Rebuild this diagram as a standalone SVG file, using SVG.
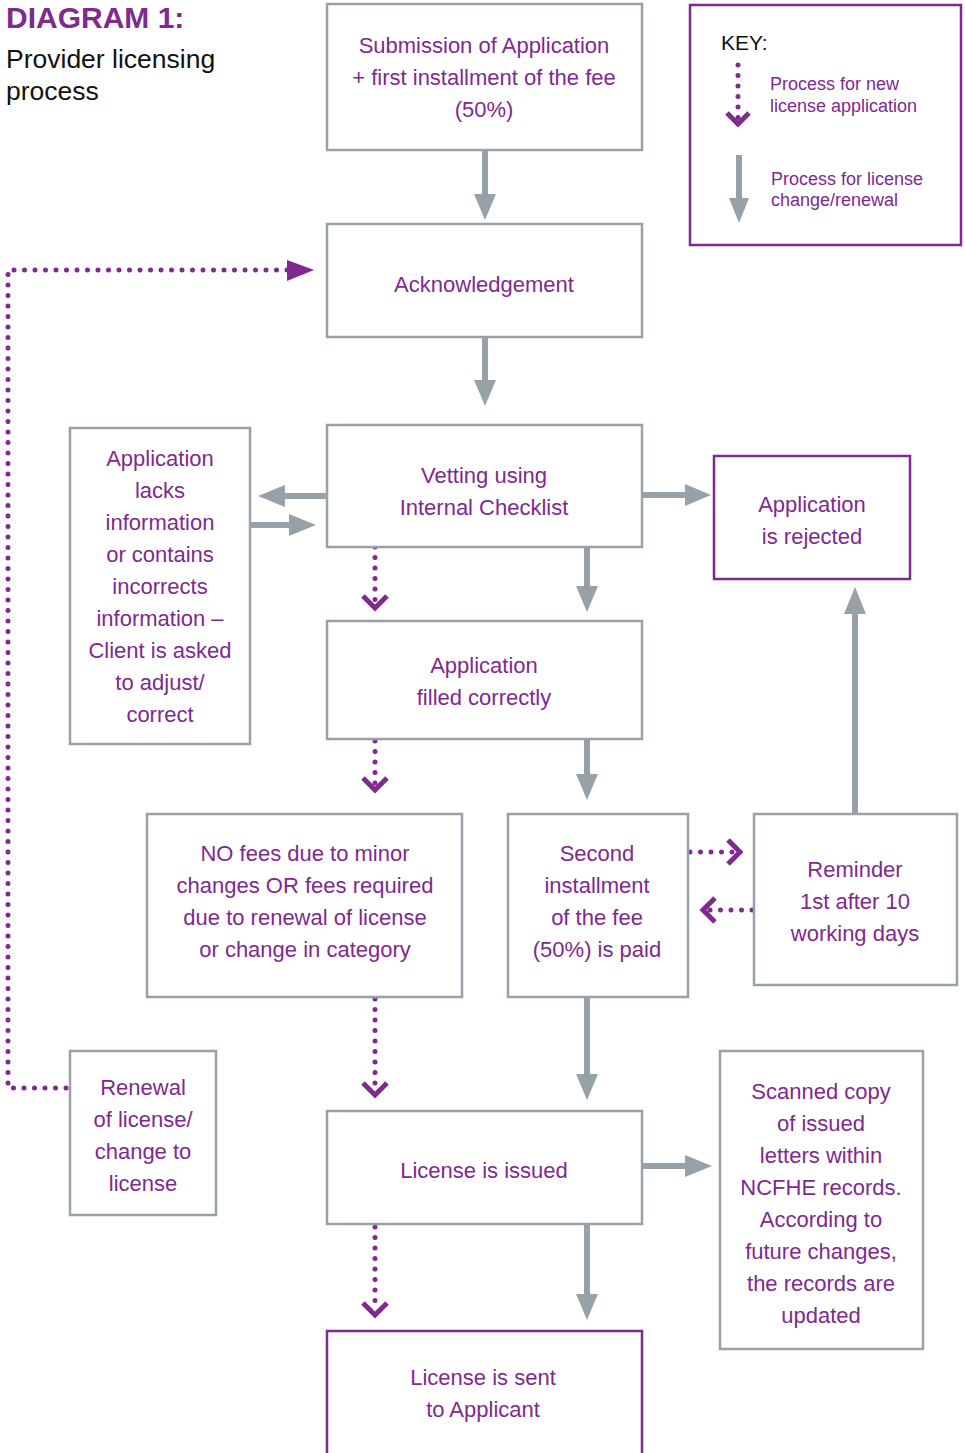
<svg xmlns="http://www.w3.org/2000/svg" width="965" height="1453" viewBox="0 0 965 1453">
<defs>
<style>
.box{fill:#fff;stroke:#97a2a8;stroke-width:2.5}
.pbox{fill:#fff;stroke:#80298f;stroke-width:2.5}
.t{font-family:"Liberation Sans",Arial,sans-serif;font-size:22px;fill:#80298f;text-anchor:middle}
.kt{font-family:"Liberation Sans",Arial,sans-serif;font-size:18px;fill:#80298f}
.g{stroke:#97a2a8;stroke-width:6;fill:none}
.gh{fill:#97a2a8}
.d{stroke:#80298f;stroke-width:5;stroke-linecap:round;stroke-dasharray:0 10.5;fill:none}
.ch{stroke:#80298f;stroke-width:5;fill:none}
</style>
</defs>
<rect width="965" height="1453" fill="#fff"/>
<g id="title">
<text x="6" y="28" font-family="Liberation Sans,Arial,sans-serif" font-size="30" font-weight="bold" fill="#80298f">DIAGRAM 1:</text>
<text x="6" y="68" font-family="Liberation Sans,Arial,sans-serif" font-size="26.5" fill="#111">Provider licensing</text>
<text x="6" y="100" font-family="Liberation Sans,Arial,sans-serif" font-size="26.5" fill="#111">process</text>
</g>
<g id="key">
<rect x="690" y="5" width="271" height="240" class="pbox"/>
<text x="721" y="50" font-family="Liberation Sans,Arial,sans-serif" font-size="21" fill="#111">KEY:</text>
<path d="M738 65 V118" class="d"/>
<path d="M727 113 L738 124 L749 113" class="ch"/>
<text x="770" y="90" class="kt">Process for new</text>
<text x="770" y="112" class="kt">license application</text>
<path d="M739 155 V200" class="g"/>
<path d="M729 198 L749 198 L739 223 Z" class="gh"/>
<text x="771" y="185" class="kt">Process for license</text>
<text x="771" y="206" class="kt">change/renewal</text>
</g>
<g id="connectors">
<path d="M485 150 V196" class="g"/><path d="M474 194 L496 194 L485 220 Z" class="gh"/>
<path d="M485 337 V382" class="g"/><path d="M474 380 L496 380 L485 406 Z" class="gh"/>
<path d="M327 496 H282" class="g"/><path d="M285 485 L285 507 L258 496 Z" class="gh"/>
<path d="M248 525 H292" class="g"/><path d="M289 514 L289 536 L316 525 Z" class="gh"/>
<path d="M642 495 H688" class="g"/><path d="M685 484 L685 506 L711 495 Z" class="gh"/>
<path d="M587 547 V588" class="g"/><path d="M576 586 L598 586 L587 612 Z" class="gh"/>
<path d="M587 740 V776" class="g"/><path d="M576 774 L598 774 L587 800 Z" class="gh"/>
<path d="M855 814 V612" class="g"/><path d="M844 614 L866 614 L855 587 Z" class="gh"/>
<path d="M587 997 V1076" class="g"/><path d="M576 1074 L598 1074 L587 1100 Z" class="gh"/>
<path d="M642 1166 H688" class="g"/><path d="M685 1155 L685 1177 L712 1166 Z" class="gh"/>
<path d="M587 1225 V1296" class="g"/><path d="M576 1294 L598 1294 L587 1320 Z" class="gh"/>
<path d="M375 547 V603" class="d"/><path d="M363 596 L375 608 L387 596" class="ch"/>
<path d="M375 741 V785" class="d"/><path d="M363 778 L375 790 L387 778" class="ch"/>
<path d="M375 999 V1090" class="d"/><path d="M363 1083 L375 1095 L387 1083" class="ch"/>
<path d="M375 1227 V1310" class="d"/><path d="M363 1303 L375 1315 L387 1303" class="ch"/>
<path d="M690 852 H735" class="d"/><path d="M728 840 L740 852 L728 864" class="ch"/>
<path d="M752 910 H708" class="d"/><path d="M715 898 L703 910 L715 922" class="ch"/>
<path d="M66 1088 H8 V270 H290" class="d"/><path d="M287 260 L287 281 L314 270 Z" fill="#80298f"/>
</g>
<g id="submission">
<rect x="327" y="4" width="315" height="146" class="box"/>
<text x="484" y="53" class="t">Submission of Application</text>
<text x="484" y="85" class="t">+ first installment of the fee</text>
<text x="484" y="117" class="t">(50%)</text>
</g>
<g id="acknowledgement">
<rect x="327" y="224" width="315" height="113" class="box"/>
<text x="484" y="292" class="t">Acknowledgement</text>
</g>
<g id="vetting">
<rect x="327" y="425" width="315" height="122" class="box"/>
<text x="484" y="483" class="t">Vetting using</text>
<text x="484" y="515" class="t">Internal Checklist</text>
</g>
<g id="lacks">
<rect x="70" y="428" width="180" height="316" class="box"/>
<text x="160" y="466" class="t">Application</text>
<text x="160" y="498" class="t">lacks</text>
<text x="160" y="530" class="t">information</text>
<text x="160" y="562" class="t">or contains</text>
<text x="160" y="594" class="t">incorrects</text>
<text x="160" y="626" class="t">information –</text>
<text x="160" y="658" class="t">Client is asked</text>
<text x="160" y="690" class="t">to adjust/</text>
<text x="160" y="722" class="t">correct</text>
</g>
<g id="rejected">
<rect x="714" y="456" width="196" height="123" class="pbox"/>
<text x="812" y="512" class="t">Application</text>
<text x="812" y="544" class="t">is rejected</text>
</g>
<g id="filled">
<rect x="327" y="621" width="315" height="118" class="box"/>
<text x="484" y="673" class="t">Application</text>
<text x="484" y="705" class="t">filled correctly</text>
</g>
<g id="nofees">
<rect x="147" y="814" width="315" height="183" class="box"/>
<text x="305" y="861" class="t">NO fees due to minor</text>
<text x="305" y="893" class="t">changes OR fees required</text>
<text x="305" y="925" class="t">due to renewal of license</text>
<text x="305" y="957" class="t">or change in category</text>
</g>
<g id="second">
<rect x="508" y="814" width="180" height="183" class="box"/>
<text x="597" y="861" class="t">Second</text>
<text x="597" y="893" class="t">installment</text>
<text x="597" y="925" class="t">of the fee</text>
<text x="597" y="957" class="t">(50%) is paid</text>
</g>
<g id="reminder">
<rect x="754" y="814" width="203" height="171" class="box"/>
<text x="855" y="877" class="t">Reminder</text>
<text x="855" y="909" class="t">1st after 10</text>
<text x="855" y="941" class="t">working days</text>
</g>
<g id="renewal">
<rect x="70" y="1051" width="146" height="164" class="box"/>
<text x="143" y="1095" class="t">Renewal</text>
<text x="143" y="1127" class="t">of license/</text>
<text x="143" y="1159" class="t">change to</text>
<text x="143" y="1191" class="t">license</text>
</g>
<g id="issued">
<rect x="327" y="1111" width="315" height="113" class="box"/>
<text x="484" y="1178" class="t">License is issued</text>
</g>
<g id="scanned">
<rect x="720" y="1051" width="203" height="298" class="box"/>
<text x="821" y="1099" class="t">Scanned copy</text>
<text x="821" y="1131" class="t">of issued</text>
<text x="821" y="1163" class="t">letters within</text>
<text x="821" y="1195" class="t">NCFHE records.</text>
<text x="821" y="1227" class="t">According to</text>
<text x="821" y="1259" class="t">future changes,</text>
<text x="821" y="1291" class="t">the records are</text>
<text x="821" y="1323" class="t">updated</text>
</g>
<g id="sent">
<rect x="327" y="1331" width="315" height="140" class="pbox"/>
<text x="483" y="1385" class="t">License is sent</text>
<text x="483" y="1417" class="t">to Applicant</text>
</g>
</svg>
